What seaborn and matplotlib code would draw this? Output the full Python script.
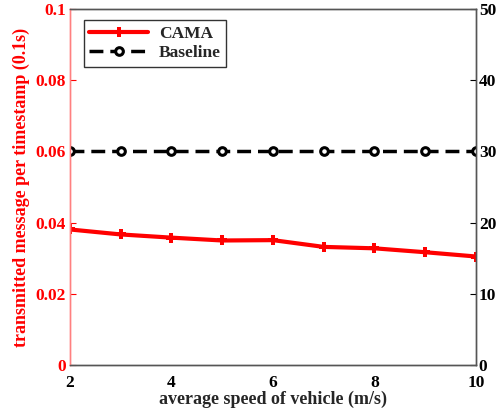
import pandas as pd
import matplotlib.pyplot as plt
import seaborn as sns

# data
speed = [2, 3, 4, 5, 6, 7, 8, 9, 10]
cama = [0.0381, 0.0367, 0.0358, 0.0350, 0.0351, 0.0332, 0.0328, 0.0317, 0.0305]
baseline = [30, 30, 30, 30, 30, 30, 30, 30, 30]

df = pd.DataFrame({"speed": speed, "CAMA": cama, "Baseline": baseline})

sns.set_style("white")
plt.rcParams['font.family'] = ['Liberation Serif', 'DejaVu Serif']
plt.rcParams['font.weight'] = 'bold'

fig = plt.figure(figsize=(4.99, 4.13), dpi=100)
ax = fig.add_axes([0.140, 0.116, 0.814, 0.862])
ax2 = ax.twinx()

sns.lineplot(data=df, x="speed", y="CAMA", ax=ax, color="red", linewidth=3,
             marker="P", markersize=7, markeredgewidth=0, label="CAMA", legend=False)
sns.lineplot(data=df, x="speed", y="Baseline", ax=ax2, color="black", linewidth=2.5,
             linestyle=(0, (4, 2)), marker="o", markersize=5.5, markerfacecolor="white",
             markeredgecolor="black", markeredgewidth=2.2, label="Baseline", legend=False)

ax.set_xlim(2, 10)
ax.set_ylim(0, 0.1)
ax2.set_ylim(0, 50)
ax.set_xticks([2, 4, 6, 8, 10])
ax.set_yticks([0, 0.02, 0.04, 0.06, 0.08, 0.1])
ax.set_yticklabels(["0", "0.02", "0.04", "0.06", "0.08", "0.1"])
ax2.set_yticks([0, 10, 20, 30, 40, 50])

ax.set_xlabel("average speed of vehicle (m/s)", fontsize=13, fontweight="bold", labelpad=0)
ax.set_ylabel("transmitted message per timestamp (0.1s)", fontsize=13,
              fontweight="bold", color="red", labelpad=4)
ax2.set_ylabel("")

ax.tick_params(axis="y", colors="red", direction="in", labelsize=12.5, length=4, pad=3)
ax.tick_params(axis="x", colors="black", direction="in", labelsize=12.5, length=4, pad=7)
ax2.tick_params(axis="y", colors="black", direction="in", labelsize=12.5, length=4, pad=2)
for lab in ax.get_xticklabels() + ax.get_yticklabels() + ax2.get_yticklabels():
    lab.set_fontweight("bold")

for a in (ax, ax2):
    for s in a.spines.values():
        s.set_color("#555555")
        s.set_linewidth(1)
ax2.spines["left"].set_color("#ff8080")
ax.spines["left"].set_color("#ff8080")

h1, l1 = ax.get_legend_handles_labels()
h2, l2 = ax2.get_legend_handles_labels()
leg = ax2.legend(h1 + h2, l1 + l2, loc="upper left", bbox_to_anchor=(0.035, 0.968),
                 fancybox=False, edgecolor="black", fontsize=12.5, handlelength=3.4,
                 borderpad=0.3, labelspacing=0.2, borderaxespad=0, handletextpad=0.6)
leg.get_frame().set_linewidth(1)
for t in leg.get_texts():
    t.set_fontweight("bold")

plt.savefig("out.png", dpi=100)
